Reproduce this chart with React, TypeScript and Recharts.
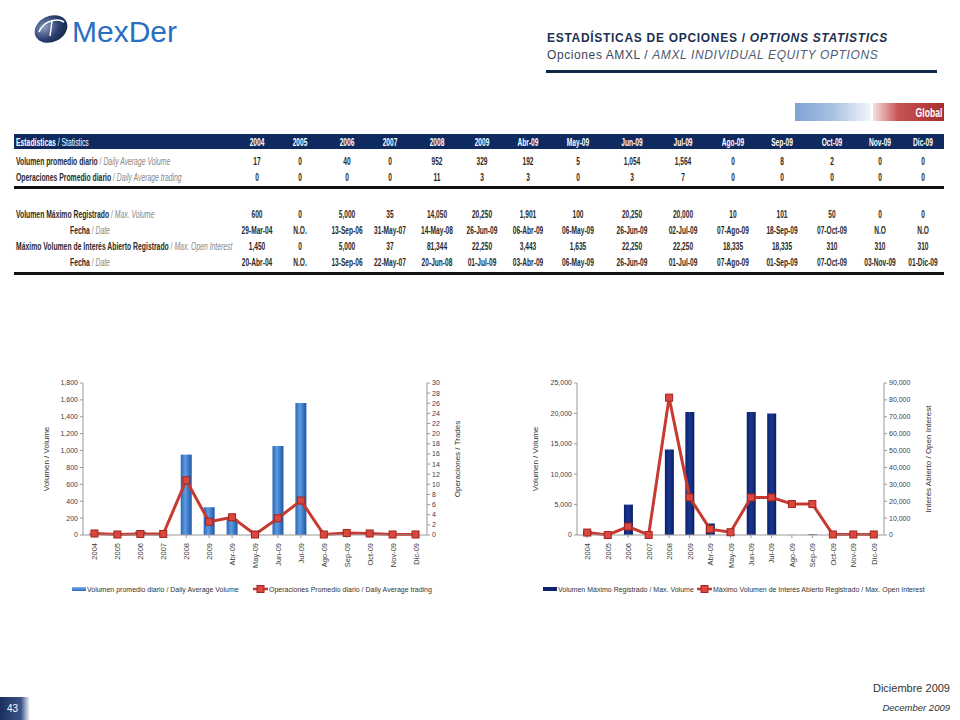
import React from 'react';
import { ComposedChart, Bar, Line, XAxis, YAxis } from 'recharts';

// categories shared by the table and both charts
const categories = ['2004', '2005', '2006', '2007', '2008', '2009', 'Abr-09', 'May-09', 'Jun-09', 'Jul-09', 'Ago-09', 'Sep-09', 'Oct-09', 'Nov-09', 'Dic-09'];

// table values
const avgVolume = [17, 0, 40, 0, 952, 329, 192, 5, 1054, 1564, 0, 8, 2, 0, 0];
const avgTrading = [0, 0, 0, 0, 11, 3, 3, 0, 3, 7, 0, 0, 0, 0, 0];
const maxVolume = [600, 0, 5000, 35, 14050, 20250, 1901, 100, 20250, 20000, 10, 101, 50, 0, 0];
const maxVolumeDate = ['29-Mar-04', 'N.O.', '13-Sep-06', '31-May-07', '14-May-08', '26-Jun-09', '06-Abr-09', '06-May-09', '26-Jun-09', '02-Jul-09', '07-Ago-09', '18-Sep-09', '07-Oct-09', 'N.O', 'N.O'];
const maxOpenInterest = [1450, 0, 5000, 37, 81344, 22250, 3443, 1635, 22250, 22250, 18335, 18335, 310, 310, 310];
const maxOpenInterestDate = ['20-Abr-04', 'N.O.', '13-Sep-06', '22-May-07', '20-Jun-08', '01-Jul-09', '03-Abr-09', '06-May-09', '26-Jun-09', '01-Jul-09', '07-Ago-09', '01-Sep-09', '07-Oct-09', '03-Nov-09', '01-Dic-09'];

// daily average trading as plotted (unrounded)
const avgTradingPlot = [0.3, 0.1, 0.2, 0.2, 10.8, 2.6, 3.5, 0.1, 3.3, 6.8, 0.1, 0.4, 0.3, 0.1, 0.1];

// axis ticks
const volTicks = [0, 200, 400, 600, 800, 1000, 1200, 1400, 1600, 1800];
const tradeTicks = [0, 2, 4, 6, 8, 10, 12, 14, 16, 18, 20, 22, 24, 26, 28, 30];
const maxVolTicks = [0, 5000, 10000, 15000, 20000, 25000];
const oiTicks = [0, 10000, 20000, 30000, 40000, 50000, 60000, 70000, 80000, 90000];

const leftData = categories.map((c, i) => ({ cat: c, vol: avgVolume[i], trades: avgTradingPlot[i] }));
const rightData = categories.map((c, i) => ({ cat: c, vol: maxVolume[i], oi: maxOpenInterest[i] }));

// table column centres (layout only)
const colX = [257, 300, 347, 390, 437, 482, 528, 578, 632, 683, 733, 782, 832, 880, 923];

const FONT = '"Liberation Sans", Arial, sans-serif';
const RED = '#c73a32';
const fmt = (v: number) => v.toLocaleString('en-US');

const Txt = ({ x, y, align = 'left', scale = 0.66, size = 10.5, style, children }: any) => (
  <div
    style={{
      position: 'absolute',
      left: x,
      top: y,
      fontFamily: FONT,
      fontSize: size,
      lineHeight: 1,
      whiteSpace: 'nowrap',
      transformOrigin: align === 'left' ? 'left center' : 'center center',
      transform: align === 'left' ? `translateY(-50%) scaleX(${scale})` : `translate(-50%, -50%) scaleX(${scale})`,
      ...style,
    }}
  >
    {children}
  </div>
);

const RowLabel = ({ y, es, en, center }: any) => (
  <Txt x={center ? 90 : 16} y={y} align={center ? 'center' : 'left'} scale={0.62} size={11}>
    <span style={{ fontWeight: 'bold', color: '#2b2b2b' }}>{es}</span>
    <span style={{ color: '#888' }}> / </span>
    <span style={{ fontStyle: 'italic', color: '#888' }}>{en}</span>
  </Txt>
);

const ValueRow = ({ y, values }: any) => (
  <>
    {values.map((v: any, i: number) => (
      <Txt key={i} x={colX[i]} y={y} align="center" scale={0.6} size={11} style={{ fontWeight: 'bold', color: '#2a2a2a' }}>
        {typeof v === 'number' ? fmt(v) : v}
      </Txt>
    ))}
  </>
);

const CatTick = ({ x, y, payload }: any) => (
  <text
    x={x}
    y={y + 3}
    dy={3}
    transform={`rotate(-90 ${x} ${y + 3})`}
    textAnchor="end"
    fontSize={7.5}
    fontFamily={FONT}
    fill="#3a3a3a"
  >
    {payload.value}
  </text>
);

const SquareDot = ({ cx, cy }: any) =>
  cx == null ? null : (
    <rect x={cx - 3.5} y={cy - 3.5} width={7} height={7} fill="#d9473e" stroke="#a3251f" strokeWidth={1} />
  );

const tickStyle = { fontSize: 7, fontFamily: FONT, fill: '#44384f' };
const axisLine = { stroke: '#9a9a9a' };

const LegendItem = ({ x, y, kind, color, text }: any) => (
  <div style={{ position: 'absolute', left: x, top: y - 5, height: 10, display: 'flex', alignItems: 'center', fontFamily: FONT, fontSize: 7, color: '#333', whiteSpace: 'nowrap' }}>
    {kind === 'bar' ? (
      <div style={{ width: 14, height: 4, background: color, marginRight: 1 }} />
    ) : (
      <svg width={15} height={10} style={{ marginRight: 1 }}>
        <line x1={0} y1={5} x2={15} y2={5} stroke={RED} strokeWidth={2.5} />
        <rect x={4} y={1.5} width={7} height={7} fill="#d9473e" stroke="#a3251f" />
      </svg>
    )}
    {text}
  </div>
);

const yLabel = (value: string, offset: number) => ({
  value,
  angle: -90,
  position: 'insideLeft' as const,
  offset,
  style: { textAnchor: 'middle', fontSize: 8, fontFamily: FONT, fill: '#333' },
});

export default function App() {
  return (
    <div style={{ position: 'absolute', left: 0, top: 0, width: 960, height: 720, background: '#fff', overflow: 'hidden', fontFamily: FONT }}>
      {/* logo */}
      <svg style={{ position: 'absolute', left: 30, top: 8 }} width={160} height={45}>
        <defs>
          <radialGradient id="logoG" cx="0.35" cy="0.35" r="0.8">
            <stop offset="0%" stopColor="#8a9cc0" />
            <stop offset="55%" stopColor="#2c3f6e" />
            <stop offset="100%" stopColor="#13213f" />
          </radialGradient>
        </defs>
        <ellipse cx={21} cy={21} rx={17} ry={13} transform="rotate(-25 21 21)" fill="url(#logoG)" />
        <path d="M9 24 C 14 12, 28 10, 34 14" stroke="#fff" strokeWidth={1.6} fill="none" />
        <path d="M22 13 L 20 28" stroke="#fff" strokeWidth={1.4} fill="none" />
        <text x={42} y={34} fontSize={30} fontFamily={FONT} fill="#2a6fc0">MexDer</text>
      </svg>

      {/* title */}
      <div style={{ position: 'absolute', left: 547, top: 31, fontSize: 12, fontWeight: 'bold', color: '#1d3150', letterSpacing: 0.7, whiteSpace: 'nowrap' }}>
        ESTADÍSTICAS DE OPCIONES / <i>OPTIONS STATISTICS</i>
      </div>
      <div style={{ position: 'absolute', left: 547, top: 48, fontSize: 12, color: '#3a4658', letterSpacing: 0.6, whiteSpace: 'nowrap' }}>
        Opciones AMXL / <i style={{ color: '#4f5c70' }}>AMXL INDIVIDUAL EQUITY OPTIONS</i>
      </div>
      <div style={{ position: 'absolute', left: 546, top: 70, width: 391, height: 3, background: '#10294a' }} />

      {/* Global tag */}
      <div style={{ position: 'absolute', left: 795, top: 103, width: 76, height: 18, background: 'linear-gradient(to right, #7fa3d3, #a8c1e2 50%, #f3f6fb)' }} />
      <div style={{ position: 'absolute', left: 873, top: 103, width: 71, height: 18, background: 'linear-gradient(to right, #f6e0e0, #c95454 35%, #a82c2c)' }} />
      <Txt x={929} y={113} align="center" size={12} scale={0.72} style={{ color: '#fff', fontWeight: 'bold' }}>Global</Txt>

      {/* table */}
      <div style={{ position: 'absolute', left: 14, top: 134, width: 930, height: 15, background: '#0f2a5f' }} />
      <Txt x={16} y={142} scale={0.62} size={11} style={{ color: '#fff' }}>
        <b>Estadísticas</b> / Statistics
      </Txt>
      {categories.map((c, i) => (
        <Txt key={c} x={colX[i]} y={142} align="center" scale={0.6} size={11} style={{ color: '#fff', fontWeight: 'bold' }}>{c}</Txt>
      ))}
      <RowLabel y={161} es="Volumen promedio diario" en="Daily Average Volume" />
      <ValueRow y={161} values={avgVolume} />
      <RowLabel y={177} es="Operaciones Promedio diario" en="Daily Average trading" />
      <ValueRow y={177} values={avgTrading} />
      <div style={{ position: 'absolute', left: 14, top: 186, width: 930, height: 2.5, background: '#111' }} />

      <RowLabel y={214} es="Volumen Máximo Registrado" en="Max. Volume" />
      <ValueRow y={214} values={maxVolume} />
      <RowLabel y={230} es="Fecha" en="Date" center />
      <ValueRow y={230} values={maxVolumeDate} />
      <RowLabel y={246} es="Máximo Volumen de Interés Abierto Registrado" en="Max. Open Interest" />
      <ValueRow y={246} values={maxOpenInterest} />
      <RowLabel y={262} es="Fecha" en="Date" center />
      <ValueRow y={262} values={maxOpenInterestDate} />
      <div style={{ position: 'absolute', left: 14, top: 272, width: 930, height: 2.5, background: '#111' }} />

      {/* left chart */}
      <div style={{ position: 'absolute', left: 30, top: 372 }}>
        <ComposedChart width={440} height={240} data={leftData} margin={{ top: 11, right: 0, left: 0, bottom: 37 }} barCategoryGap={0}>
          <defs>
            <linearGradient id="blueBar" x1="0" y1="0" x2="1" y2="0">
              <stop offset="0%" stopColor="#2a66b6" />
              <stop offset="40%" stopColor="#5d9ce2" />
              <stop offset="100%" stopColor="#1d57a6" />
            </linearGradient>
          </defs>
          <XAxis dataKey="cat" interval={0} height={40} tick={<CatTick />} axisLine={axisLine} tickLine={{ stroke: '#9a9a9a' }} tickSize={3} />
          <YAxis yAxisId="l" width={53} domain={[0, 1800]} ticks={volTicks} interval={0} tickFormatter={fmt} tick={tickStyle} axisLine={axisLine} tickLine={{ stroke: '#9a9a9a' }} tickSize={3} label={yLabel('Volumen / Volume', 16)} />
          <YAxis yAxisId="r" orientation="right" width={43} domain={[0, 30]} ticks={tradeTicks} interval={0} tick={tickStyle} axisLine={axisLine} tickLine={{ stroke: '#9a9a9a' }} tickSize={3} label={yLabel('Operaciones / Trades', 30)} />
          <Bar yAxisId="l" dataKey="vol" barSize={11} fill="url(#blueBar)" isAnimationActive={false} />
          <Line yAxisId="r" dataKey="trades" stroke={RED} strokeWidth={3} dot={<SquareDot />} isAnimationActive={false} />
        </ComposedChart>
      </div>
      <LegendItem x={72} y={589} kind="bar" color="linear-gradient(to bottom, #7fb3ea, #2a66b6)" text="Volumen promedio diario / Daily Average Volume" />
      <LegendItem x={253} y={589} kind="line" text="Operaciones Promedio diario / Daily Average trading" />

      {/* right chart */}
      <div style={{ position: 'absolute', left: 520, top: 372 }}>
        <ComposedChart width={440} height={240} data={rightData} margin={{ top: 11, right: 0, left: 0, bottom: 37 }} barCategoryGap={0}>
          <defs>
            <linearGradient id="navyBar" x1="0" y1="0" x2="1" y2="0">
              <stop offset="0%" stopColor="#0b2270" />
              <stop offset="50%" stopColor="#1b3690" />
              <stop offset="100%" stopColor="#091d63" />
            </linearGradient>
          </defs>
          <XAxis dataKey="cat" interval={0} height={40} tick={<CatTick />} axisLine={axisLine} tickLine={{ stroke: '#9a9a9a' }} tickSize={3} />
          <YAxis yAxisId="l" width={57} domain={[0, 25000]} ticks={maxVolTicks} interval={0} tickFormatter={fmt} tick={tickStyle} axisLine={axisLine} tickLine={{ stroke: '#9a9a9a' }} tickSize={3} label={yLabel('Volumen / Volume', 15)} />
          <YAxis yAxisId="r" orientation="right" width={76} domain={[0, 90000]} ticks={oiTicks} interval={0} tickFormatter={fmt} tick={tickStyle} axisLine={axisLine} tickLine={{ stroke: '#9a9a9a' }} tickSize={3} label={yLabel('Interés Abierto / Open Interest', 44)} />
          <Bar yAxisId="l" dataKey="vol" barSize={9} fill="url(#navyBar)" isAnimationActive={false} />
          <Line yAxisId="r" dataKey="oi" stroke={RED} strokeWidth={3} dot={<SquareDot />} isAnimationActive={false} />
        </ComposedChart>
      </div>
      <LegendItem x={543} y={589} kind="bar" color="#0b2270" text="Volumen Máximo Registrado / Max. Volume" />
      <LegendItem x={697} y={589} kind="line" text="Máximo Volumen de Interés Abierto Registrado / Max. Open Interest" />

      {/* footer */}
      <div style={{ position: 'absolute', right: 10, top: 682, fontSize: 11, color: '#333' }}>Diciembre 2009</div>
      <div style={{ position: 'absolute', right: 10, top: 702, fontSize: 9.5, fontStyle: 'italic', color: '#333' }}>December 2009</div>
      <div style={{ position: 'absolute', left: 0, top: 697, width: 30, height: 23, background: 'linear-gradient(to right, #1b2f5e, #3b5486 70%, rgba(255,255,255,0))' }} />
      <div style={{ position: 'absolute', left: 7, top: 703, fontSize: 10, color: '#fff' }}>43</div>
    </div>
  );
}
